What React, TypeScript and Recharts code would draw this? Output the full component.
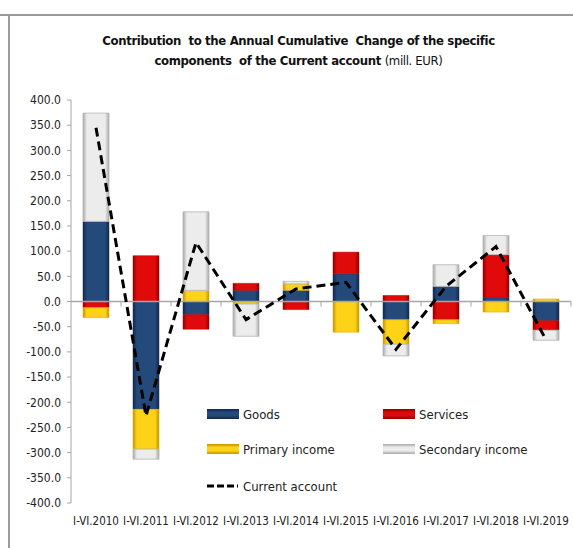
import React from 'react';
import { ComposedChart, Bar, Line, XAxis, YAxis, ReferenceLine } from 'recharts';

const categories = ['I-VI.2010', 'I-VI.2011', 'I-VI.2012', 'I-VI.2013', 'I-VI.2014', 'I-VI.2015', 'I-VI.2016', 'I-VI.2017', 'I-VI.2018', 'I-VI.2019'];
const goods = [159, -214, -26, 22, 22, 55, -36, 30, 8, -38];
const services = [-12, 91, -29, 14, -16, 43, 12, -36, 85, -19];
const primaryIncome = [-20, -79, 22, -5, 13, -61, -49, -8, -21, 5];
const secondaryIncome = [215, -20, 156, -64, 5, 0, -23, 43, 38, -20];
const currentAccount = [345, -227, 117, -36, 25, 38, -95, 30, 109, -76];
const yTicks = [400, 350, 300, 250, 200, 150, 100, 50, 0, -50, -100, -150, -200, -250, -300, -350, -400];

const data = categories.map((name, i) => ({
  name,
  goods: goods[i],
  services: services[i],
  primary: primaryIncome[i],
  secondary: secondaryIncome[i],
  current: currentAccount[i],
}));

const FONT = "'DejaVu Sans', sans-serif";

// bevel-ish gradients like the excel original
const grads = [
  { id: 'Goods', edge: '#12284a', mid: '#244a7c' },
  { id: 'Services', edge: '#8e0000', mid: '#e00a0a' },
  { id: 'Primary', edge: '#c49500', mid: '#ffd21a' },
  { id: 'Secondary', edge: '#a8a8a8', mid: '#ececec' },
];

const legendItems = [
  { label: 'Goods', grad: 'Goods', left: 207, top: 409 },
  { label: 'Services', grad: 'Services', left: 383, top: 409 },
  { label: 'Primary income', grad: 'Primary', left: 207, top: 444 },
  { label: 'Secondary income', grad: 'Secondary', left: 383, top: 444 },
];

const zeroLine = (props: any) => {
  const { x1, x2, y1 } = props;
  if (x1 == null || x2 == null || y1 == null) return <g />;
  const step = (x2 - x1) / categories.length;
  return (
    <g>
      <line x1={x1} x2={x2} y1={y1} y2={y1} stroke="#a6a6a6" strokeWidth={1.5} />
      {categories.map((c, i) => (
        <line key={c} x1={x1 + step * (i + 1)} x2={x1 + step * (i + 1)} y1={y1} y2={y1 + 5} stroke="#a6a6a6" />
      ))}
    </g>
  );
};

export default function App() {
  return (
    <div style={{ position: 'absolute', left: 0, top: 0, width: 573, height: 548, background: '#fff', fontFamily: FONT, fontStretch: 'condensed' }}>
      <div style={{ position: 'absolute', left: 0, top: 14, width: 573, height: 1.5, background: '#9a9a9a' }} />
      <div style={{ position: 'absolute', left: 8, top: 14, width: 1.5, height: 534, background: '#9a9a9a' }} />
      <div style={{ position: 'absolute', left: 0, top: 31, width: 597, textAlign: 'center', fontSize: 13, lineHeight: '20px', fontWeight: 'bold', color: '#111', letterSpacing: -0.35 }}>
        Contribution&nbsp; to the Annual Cumulative&nbsp; Change of the specific<br />
        components&nbsp; of the Current account <span style={{ fontWeight: 'normal' }}>(mill. EUR)</span>
      </div>
      <ComposedChart
        width={573}
        height={548}
        data={data}
        stackOffset="sign"
        margin={{ top: 100, right: 2, left: 0, bottom: 15 }}
        style={{ position: 'absolute', left: 0, top: 0 }}
      >
        <defs>
          {grads.map((g) => (
            <linearGradient key={g.id} id={'bar' + g.id} x1="0" y1="0" x2="1" y2="0">
              <stop offset="0%" stopColor={g.edge} />
              <stop offset="15%" stopColor={g.mid} />
              <stop offset="85%" stopColor={g.mid} />
              <stop offset="100%" stopColor={g.edge} />
            </linearGradient>
          ))}
        </defs>
        <XAxis
          dataKey="name"
          axisLine={false}
          tickLine={false}
          height={30}
          interval={0}
          tick={{ fontSize: 11.5, fill: '#222', fontFamily: FONT, dy: 6 }}
        />
        <YAxis
          domain={[-400, 400]}
          ticks={yTicks}
          interval={0}
          width={71}
          tickSize={4}
          tickMargin={6}
          tickFormatter={(v: number) => v.toFixed(1)}
          axisLine={{ stroke: '#a6a6a6' }}
          tickLine={{ stroke: '#a6a6a6' }}
          tick={{ fontSize: 12, fill: '#222', fontFamily: FONT }}
        />
        <ReferenceLine y={0} shape={zeroLine} />
        <Bar dataKey="goods" stackId="a" barSize={26} fill="url(#barGoods)" stroke="#1a365f" strokeWidth={0.5} isAnimationActive={false} />
        <Bar dataKey="services" stackId="a" barSize={26} fill="url(#barServices)" stroke="#b00000" strokeWidth={0.5} isAnimationActive={false} />
        <Bar dataKey="primary" stackId="a" barSize={26} fill="url(#barPrimary)" stroke="#d9a800" strokeWidth={0.5} isAnimationActive={false} />
        <Bar dataKey="secondary" stackId="a" barSize={26} fill="url(#barSecondary)" stroke="#b5b5b5" strokeWidth={0.8} isAnimationActive={false} />
        <Line dataKey="current" type="linear" stroke="#000" strokeWidth={3} strokeDasharray="9 5" dot={false} isAnimationActive={false} />
      </ComposedChart>
      <svg width={573} height={548} style={{ position: 'absolute', left: 0, top: 0, pointerEvents: 'none' }}>
        <defs>
          {grads.map((g) => (
            <linearGradient key={g.id} id={'leg' + g.id} x1="0" y1="0" x2="0" y2="1">
              <stop offset="0%" stopColor={g.edge} />
              <stop offset="35%" stopColor={g.mid} />
              <stop offset="65%" stopColor={g.mid} />
              <stop offset="100%" stopColor={g.edge} />
            </linearGradient>
          ))}
        </defs>
        {legendItems.map((it) => (
          <g key={it.label}>
            <rect x={it.left} y={it.top} width={32} height={10} fill={'url(#leg' + it.grad + ')'} />
            <text x={it.left + 36} y={it.top + 10} fontSize={13} fill="#222" fontFamily={FONT}>{it.label}</text>
          </g>
        ))}
        <line x1={207} x2={238} y1={486} y2={486} stroke="#000" strokeWidth={3} strokeDasharray="7 3" />
        <text x={243} y={491} fontSize={13} fill="#222" fontFamily={FONT}>Current account</text>
      </svg>
    </div>
  );
}
